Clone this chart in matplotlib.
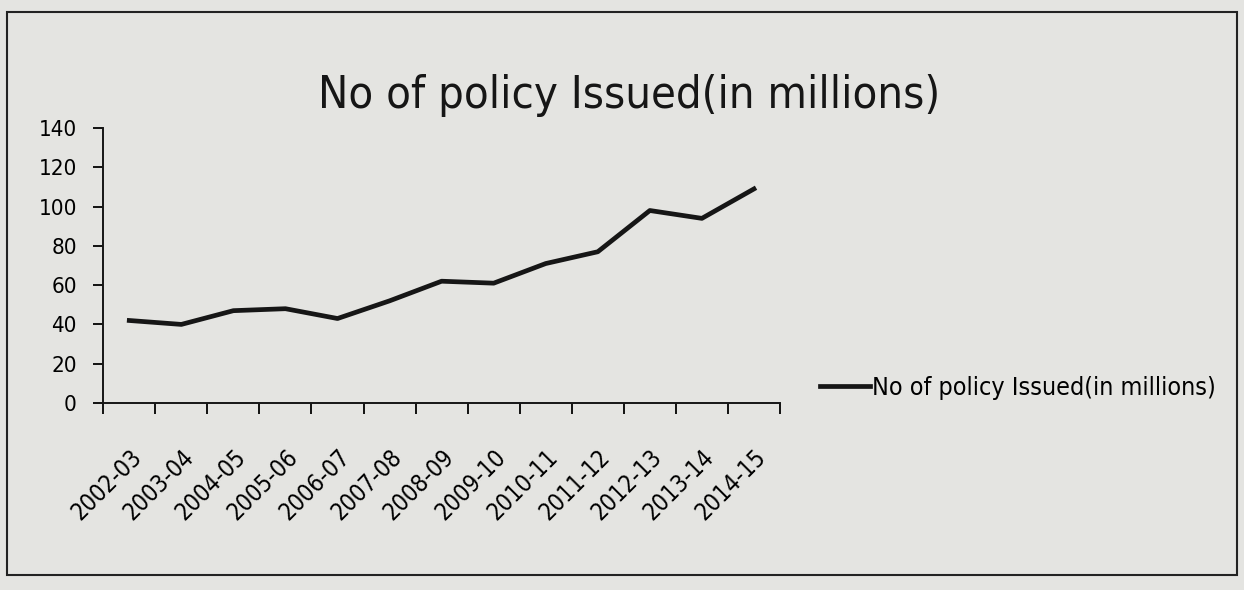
import matplotlib
matplotlib.use("Agg")
import matplotlib.pyplot as plt
import matplotlib.patches as mpatches
import numpy as np

# data
years = ["2002-03", "2003-04", "2004-05", "2005-06", "2006-07", "2007-08",
         "2008-09", "2009-10", "2010-11", "2011-12", "2012-13", "2013-14", "2014-15"]
policies = [42, 40, 47, 48, 43, 52, 62, 61, 71, 77, 98, 94, 109]
series_name = "No of policy Issued(in millions)"

plt.rcParams["font.family"] = ["DejaVu Sans"]
plt.rcParams["font.stretch"] = "condensed"

bg = "#e4e4e1"
ink = "#161616"
fig = plt.figure(figsize=(12.44, 5.9), dpi=100, facecolor=bg)
ax = fig.add_axes([0.083, 0.317, 0.544, 0.466], facecolor=bg)

x = np.arange(len(years))
ax.plot(x, policies, color=ink, linewidth=3.4, label=series_name)

ax.set_xlim(-0.5, len(years) - 0.5)
ax.set_ylim(0, 140)
ax.set_yticks(range(0, 141, 20))
ax.set_xticks(x)
ax.set_xticklabels(years, rotation=45, ha="right", rotation_mode="anchor", fontsize=17)
ax.set_xticks(np.arange(-0.5, len(years)), minor=True)
ax.tick_params(axis="x", which="major", length=0, pad=30)
ax.tick_params(axis="x", which="minor", length=8, width=1.3, direction="out")
ax.tick_params(axis="y", length=7, width=1.3, direction="out", labelsize=16, pad=12)

for s in ["top", "right"]:
    ax.spines[s].set_visible(False)
ax.spines["left"].set_linewidth(1.4)
ax.spines["bottom"].set_linewidth(1.4)
ax.spines["left"].set_color(ink)
ax.spines["bottom"].set_color(ink)

fig.text(0.506, 0.838, "No of policy Issued(in millions)", ha="center", va="center",
         fontsize=32.5, color=ink)

fig.legend(handles=[plt.Line2D([], [], color=ink, linewidth=3.4)],
           labels=[series_name], loc="center left", bbox_to_anchor=(0.659, 0.342),
           frameon=False, fontsize=18, handlelength=2.0, handletextpad=0.1,
           borderpad=0, borderaxespad=0)

# outer chart border
fig.patches.append(mpatches.Rectangle((0.006, 0.025), 0.988, 0.955, transform=fig.transFigure,
                                      fill=False, edgecolor="#222222", linewidth=1.5))

fig.savefig("out.png", dpi=100, facecolor=bg)
